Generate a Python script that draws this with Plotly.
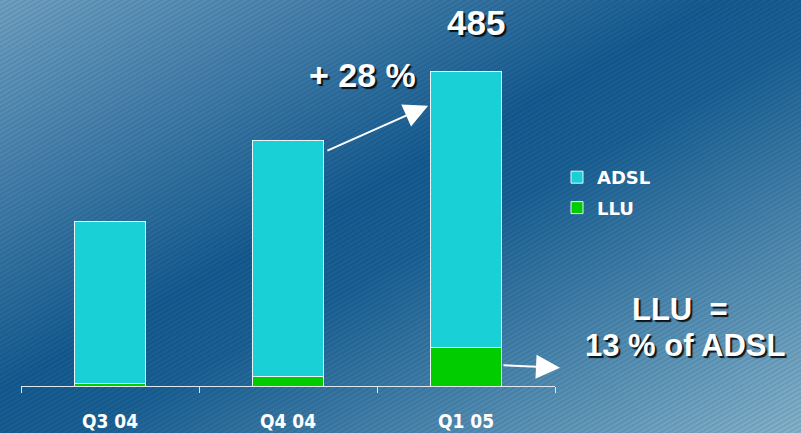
import base64

import plotly.graph_objects as go

quarters = ["Q3 04", "Q4 04", "Q1 05"]
llu_lines = [4, 14, 60]
adsl_lines = [249, 364, 425]
total_q1 = 485
growth_label = "+ 28 %"
llu_share_lines = ["LLU\u00a0 =", "13 % of ADSL"]

ADSL_COLOR = "#19d0d6"
LLU_COLOR = "#00cc00"
TEXT_FONT = "Liberation Sans, Arial, sans-serif"
SHADOW = "2px 2px 1px rgba(0,0,0,0.85)"

# background: diagonal blue gradient with fine hatching
svg = """<svg xmlns="http://www.w3.org/2000/svg" width="801" height="433">
<defs>
<linearGradient id="g" x1="0" y1="0" x2="1" y2="1">
<stop offset="0" stop-color="#6fa1c4"/>
<stop offset="0.45" stop-color="#155c92"/>
<stop offset="0.55" stop-color="#1a6196"/>
<stop offset="1" stop-color="#84b4cd"/>
</linearGradient>
<pattern id="p" width="4" height="4" patternUnits="userSpaceOnUse" patternTransform="rotate(-30)">
<rect width="4" height="1.6" fill="rgba(0,0,0,0.10)"/>
</pattern>
</defs>
<rect width="801" height="433" fill="url(#g)"/>
<rect width="801" height="433" fill="url(#p)"/>
</svg>"""
bg_src = "data:image/svg+xml;base64," + base64.b64encode(svg.encode()).decode()

fig = go.Figure()
fig.add_trace(
    go.Bar(
        x=quarters,
        y=llu_lines,
        name="LLU",
        legendgroup="llu",
        legendrank=2,
        marker={"color": LLU_COLOR, "line": {"color": "#e8f4f8", "width": 1}},
        width=0.4,
    )
)
fig.add_trace(
    go.Bar(
        x=quarters,
        y=adsl_lines,
        name="ADSL",
        legendgroup="adsl",
        legendrank=1,
        marker={"color": ADSL_COLOR, "line": {"color": "#e8f4f8", "width": 1}},
        width=0.4,
    )
)

big_font = {"family": TEXT_FONT, "color": "white", "weight": "bold", "shadow": SHADOW}
annotations = [
    # total label above Q1 05
    dict(x=2, y=total_q1, xref="x", yref="y", text=str(total_q1), showarrow=False,
         xanchor="center", yanchor="middle", yshift=49, xshift=10,
         font={**big_font, "size": 35}),
    dict(x=1.416, y=480, xref="x", yref="y", text=growth_label, showarrow=False,
         xanchor="center", yanchor="middle", font={**big_font, "size": 34}),
    # growth arrow
    dict(x=1.787, y=432, ax=1.213, ay=362, xref="x", yref="y", axref="x", ayref="y",
         text="", showarrow=True, arrowhead=2, arrowsize=2.4, arrowwidth=2, arrowcolor="white"),
    # LLU arrow
    dict(x=2.528, y=28, ax=2.202, ay=32, xref="x", yref="y", axref="x", ayref="y",
         text="", showarrow=True, arrowhead=2, arrowsize=2.4, arrowwidth=2, arrowcolor="white"),
    dict(x=680 / 801, y=1 - 309 / 433, xref="paper", yref="paper", text=llu_share_lines[0],
         showarrow=False, xanchor="center", yanchor="middle", font={**big_font, "size": 31}),
    dict(x=685 / 801, y=1 - 345 / 433, xref="paper", yref="paper", text=llu_share_lines[1],
         showarrow=False, xanchor="center", yanchor="middle", font={**big_font, "size": 31}),
]

fig.update_layout(
    width=801,
    height=433,
    margin={"l": 0, "r": 0, "t": 0, "b": 0, "pad": 0},
    barmode="stack",
    bargap=0.6,
    paper_bgcolor="#1a6196",
    plot_bgcolor="rgba(0,0,0,0)",
    images=[
        dict(source=bg_src, xref="paper", yref="paper", x=0, y=1, sizex=1, sizey=1,
             xanchor="left", yanchor="top", sizing="stretch", layer="below")
    ],
    legend={
        "x": 557 / 801,
        "y": 1 - 159 / 433,
        "xanchor": "left",
        "yanchor": "top",
        "bgcolor": "rgba(0,0,0,0)",
        "traceorder": "grouped",
        "tracegroupgap": 4,
        "font": {"family": "DejaVu Sans, Verdana, sans-serif", "size": 18, "color": "white", "weight": "bold"},
    },
    annotations=annotations,
    showlegend=True,
)
fig.update_xaxes(
    type="category",
    domain=[21 / 801, 555 / 801],
    range=[-0.5, 2.5],
    showline=True,
    linecolor="#dfe7ee",
    linewidth=1,
    ticks="outside",
    tickson="boundaries",
    ticklen=6,
    tickcolor="#dfe7ee",
    ticklabelstandoff=18,
    showgrid=False,
    tickfont={"family": "DejaVu Sans Condensed, Liberation Sans Narrow, sans-serif", "size": 19,
              "color": "white", "weight": "bold"},
)
fig.update_yaxes(
    domain=[1 - 386 / 433, 1 - 40 / 433],
    range=[0, 346 * 1.542],
    visible=False,
    showgrid=False,
)

fig.write_html(
    "out.html",
    config={"displayModeBar": False},
    post_script="document.body.style.margin='0';",
)
